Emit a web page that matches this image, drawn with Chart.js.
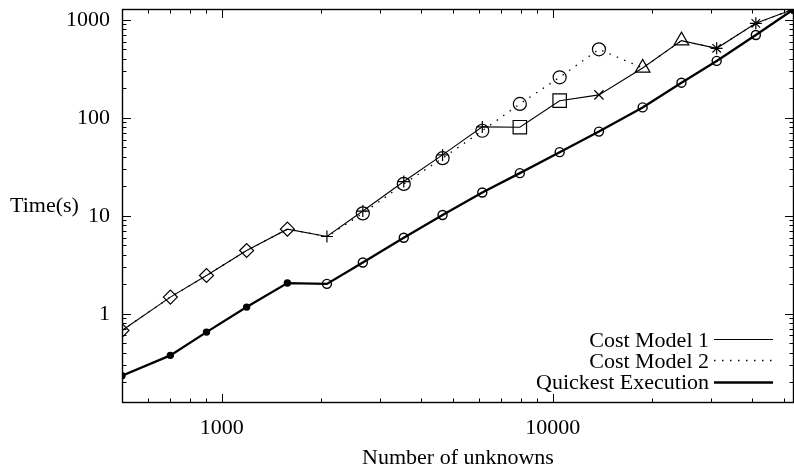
<!DOCTYPE html>
<html lang="en">
<head>
<meta charset="UTF-8">
<title>Time vs number of unknowns</title>
<script src="https://cdn.jsdelivr.net/npm/chart.js@4"></script>
<style>
  html, body { margin: 0; padding: 0; background: #fff; }
  #chart { display: block; }
</style>
</head>
<body>
<canvas id="chart" width="794" height="473"></canvas>
<script>
// values
const unknowns = [500, 700, 900, 1190, 1580, 2080, 2670, 3550, 4650, 6130, 7960, 10500, 13800, 18700, 24500, 31300, 41100, 53600];
const costModel1 = [0.675, 1.48, 2.46, 4.43, 7.31, 6.15, 11.2, 22.4, 41.9, 81, 80.4, 150, 172, 324, 615, 514, 925, 1295];
const costModel2 = [0.675, 1.48, 2.46, 4.43, 7.31, 6.15, 10.6, 21.2, 38.8, 74, 139, 260, 502, 324, 615, 514, 925, 1295];
const quickest = [0.233, 0.376, 0.65, 1.17, 2.06, 2.02, 3.34, 5.97, 10.2, 17.3, 27.3, 44.7, 72.5, 128, 229, 382, 703, 1295];
const seriesLabels = ['Cost Model 1', 'Cost Model 2', 'Quickest Execution'];
const xTickLabels = ['1000', '10000'];
const yTickLabels = ['1', '10', '100', '1000'];

const FONT = '"Liberation Serif", "Times New Roman", serif';
const NONE = 'rgba(0,0,0,0)';

// marker styles per point (gnuplot used different symbols per strategy)
const cm1Style = ['rectRot', 'rectRot', 'rectRot', 'rectRot', 'rectRot', 'cross', 'cross', 'cross', 'cross', 'cross',
  'rect', 'rect', 'crossRot', 'triangle', 'triangle', 'star', 'star', 'circle'];
const cm1Radius = [7, 7, 7, 7, 7, 6, 6, 6, 6, 6, 9.5, 9.5, 6.5, 8.5, 8.5, 6, 6, 4];
const cm2Radius = [0, 0, 0, 0, 0, 0, 6.5, 6.5, 6.5, 6.5, 6.5, 6.5, 6.5, 0, 0, 0, 0, 0];
const qeRadius = [3, 3, 3, 3, 3, 4.5, 4.5, 4.5, 4.5, 4.5, 4.5, 4.5, 4.5, 4.5, 4.5, 4.5, 4.5, 4.5];
const qeFill = quickest.map((v, i) => i < 5 ? '#000' : NONE);
const cm1Fill = costModel1.map((v, i) => i === costModel1.length - 1 ? '#000' : NONE);

function pairs(values) {
  return unknowns.map((x, i) => ({ x: x, y: values[i] }));
}

// 1..9 x 10^n tick positions strictly inside the range
function logTicks(min, max) {
  const out = [];
  for (let e = Math.floor(Math.log10(min)); e <= Math.ceil(Math.log10(max)); e++) {
    for (let s = 1; s <= 9; s++) {
      const v = s * Math.pow(10, e);
      if (v > min * 1.001 && v < max * 0.999) out.push({ v: v, major: s === 1 });
    }
  }
  return out;
}

function labelFor(list) {
  return (value) => {
    const r = Math.round(value);
    return Math.abs(value - r) < 1e-6 && list.includes(String(r)) ? String(r) : '';
  };
}

// gnuplot-like frame: inward ticks on all sides, horizontal y title, key inside bottom right
const gnuplotFrame = {
  id: 'gnuplotFrame',
  afterDatasetsDraw(chart) {
    const { ctx, chartArea: a, scales } = chart;
    const x = scales.x, y = scales.y;
    ctx.save();
    ctx.strokeStyle = '#000';
    ctx.lineWidth = 1;
    ctx.beginPath();
    logTicks(x.min, x.max).forEach(t => {
      const px = Math.round(x.getPixelForValue(t.v)) + 0.5;
      const len = t.major ? 9 : 4.5;
      ctx.moveTo(px, a.bottom); ctx.lineTo(px, a.bottom - len);
      ctx.moveTo(px, a.top); ctx.lineTo(px, a.top + len);
    });
    logTicks(y.min, y.max).forEach(t => {
      const py = Math.round(y.getPixelForValue(t.v)) + 0.5;
      const len = t.major ? 9 : 4.5;
      ctx.moveTo(a.left, py); ctx.lineTo(a.left + len, py);
      ctx.moveTo(a.right, py); ctx.lineTo(a.right - len, py);
    });
    ctx.stroke();

    ctx.lineWidth = 1.4;
    ctx.strokeRect(a.left + 0.5, a.top + 0.5, a.right - a.left - 1, a.bottom - a.top - 1);

    // y axis title, written horizontally as in the original
    ctx.fillStyle = '#000';
    ctx.font = '22px ' + FONT;
    ctx.textAlign = 'left';
    ctx.textBaseline = 'middle';
    ctx.fillText(chart.options.scales.y.title.text, 10, 206);

    // key
    ctx.textAlign = 'right';
    ctx.textBaseline = 'alphabetic';
    chart.data.datasets.forEach((ds, i) => {
      const rowY = 339 + i * 21.3;
      ctx.fillText(ds.label, 709, rowY + 7.5);
      ctx.beginPath();
      ctx.lineWidth = ds.borderWidth;
      ctx.setLineDash(ds.borderDash || []);
      ctx.moveTo(714, Math.round(rowY) + 0.5);
      ctx.lineTo(773, Math.round(rowY) + 0.5);
      ctx.stroke();
    });
    ctx.restore();
  }
};

const ctx = document.getElementById('chart').getContext('2d');
new Chart(ctx, {
  type: 'line',
  data: {
    datasets: [
      {
        label: seriesLabels[0],
        data: pairs(costModel1),
        borderColor: '#000',
        borderWidth: 1.1,
        pointStyle: cm1Style,
        pointRadius: cm1Radius,
        pointBorderColor: '#000',
        pointBackgroundColor: cm1Fill,
        pointBorderWidth: 1.2,
        tension: 0,
        fill: false
      },
      {
        label: seriesLabels[1],
        data: pairs(costModel2),
        borderColor: '#000',
        borderWidth: 1.3,
        borderDash: [1.5, 6.5],
        pointStyle: 'circle',
        pointRadius: cm2Radius,
        pointBorderColor: '#000',
        pointBackgroundColor: NONE,
        pointBorderWidth: 1.2,
        tension: 0,
        fill: false
      },
      {
        label: seriesLabels[2],
        data: pairs(quickest),
        borderColor: '#000',
        borderWidth: 2.3,
        pointStyle: 'circle',
        pointRadius: qeRadius,
        pointBorderColor: '#000',
        pointBackgroundColor: qeFill,
        pointBorderWidth: 1.4,
        tension: 0,
        fill: false
      }
    ]
  },
  options: {
    responsive: false,
    animation: false,
    events: [],
    layout: { autoPadding: false, padding: { top: 9, right: 0, left: 0, bottom: 0 } },
    plugins: {
      legend: { display: false },
      tooltip: { enabled: false }
    },
    scales: {
      x: {
        type: 'logarithmic',
        min: 500,
        max: 53600,
        grid: { display: false, drawTicks: false },
        border: { display: false },
        ticks: {
          autoSkip: false,
          maxRotation: 0,
          padding: 12,
          color: '#000',
          font: { family: FONT, size: 22 },
          callback: labelFor(xTickLabels)
        },
        title: {
          display: true,
          text: 'Number of unknowns',
          color: '#000',
          font: { family: FONT, size: 22 },
          padding: { top: 0, bottom: 2 }
        },
        afterFit(scale) {
          scale.height = 70;
          scale.paddingLeft = 0;
          scale.paddingRight = 0;
        }
      },
      y: {
        type: 'logarithmic',
        min: 0.1227,
        max: 1295,
        grid: { display: false, drawTicks: false },
        border: { display: false },
        ticks: {
          autoSkip: false,
          padding: 12,
          color: '#000',
          font: { family: FONT, size: 22 },
          callback: labelFor(yTickLabels)
        },
        title: { display: false, text: 'Time(s)' },
        afterFit(scale) {
          scale.width = 122;
          scale.paddingTop = 0;
          scale.paddingBottom = 0;
        }
      }
    }
  },
  plugins: [gnuplotFrame]
});
</script>
</body>
</html>
